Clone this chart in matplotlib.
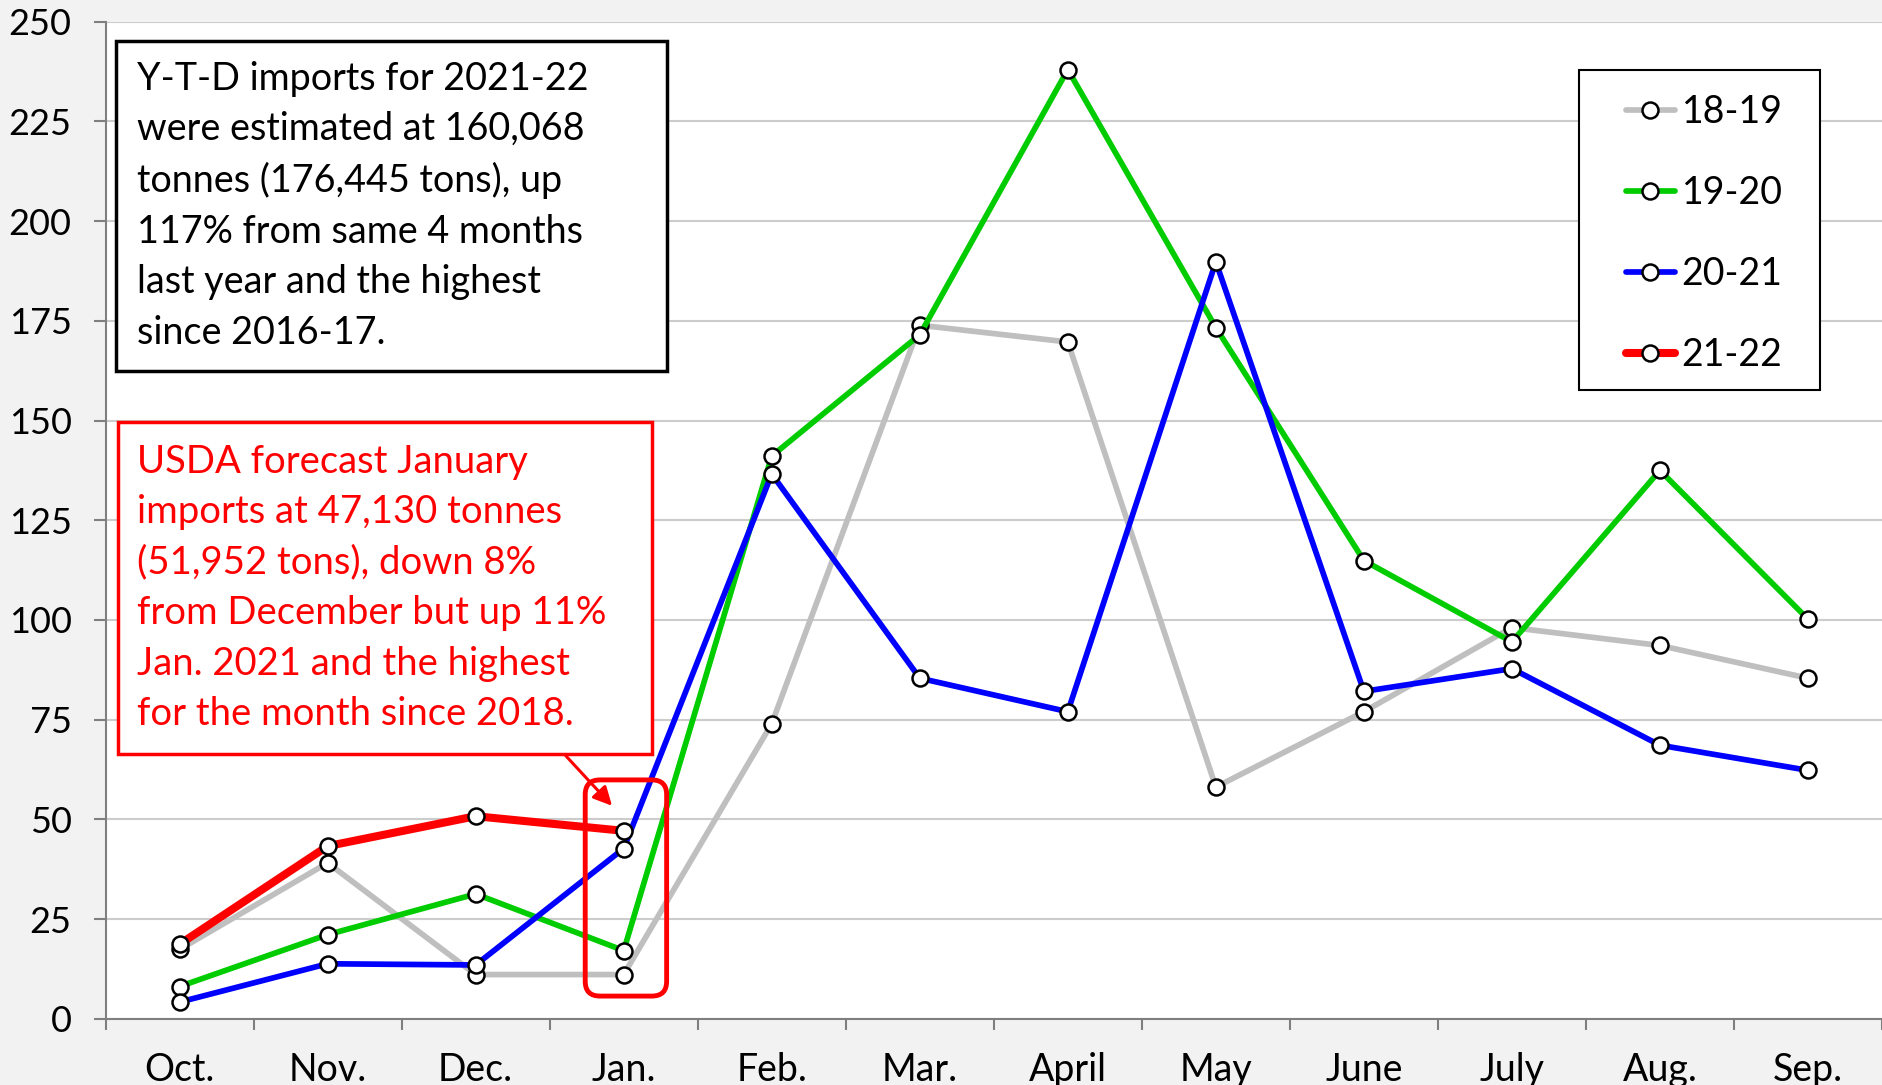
import matplotlib.pyplot as plt
from matplotlib.patches import FancyBboxPatch, Rectangle

plt.rcParams['font.family'] = ['Lato', 'DejaVu Sans']

months = ['Oct.', 'Nov.', 'Dec.', 'Jan.', 'Feb.', 'Mar.', 'April', 'May',
          'June', 'July', 'Aug.', 'Sep.']

s_18_19 = [17.4, 39.1, 11.1, 11.1, 74.0, 173.9, 169.7, 58.1, 77.0, 98.1, 93.6, 85.4]
s_19_20 = [8.1, 21.1, 31.3, 17.1, 141.1, 171.5, 238.0, 173.3, 114.9, 94.5, 137.5, 100.2]
s_20_21 = [4.2, 13.8, 13.5, 42.7, 136.6, 85.4, 77.0, 189.8, 82.1, 87.8, 68.6, 62.3]
s_21_22 = [18.7, 43.3, 50.8, 47.13]

series = [
    ('18-19', s_18_19, '#bfbfbf', 4.1),
    ('19-20', s_19_20, '#00cc00', 4.1),
    ('20-21', s_20_21, '#0000ff', 4.1),
    ('21-22', s_21_22, '#ff0000', 5.8),
]

ytd_note = ("Y-T-D imports for 2021-22\nwere estimated at 160,068\n"
            "tonnes (176,445 tons), up\n117% from same 4 months\n"
            "last year and the highest\nsince 2016-17.")
usda_note = ("USDA forecast January\nimports at 47,130 tonnes\n"
             "(51,952 tons), down 8%\nfrom December but up 11%\n"
             "Jan. 2021 and the highest\nfor the month since 2018.")

fig = plt.figure(figsize=(18.82, 10.85), dpi=100, facecolor='#f2f2f2')
ax = fig.add_axes([0.0561, 0.061, 0.9439, 0.919])
ax.set_facecolor('white')

x = list(range(len(months)))
for name, vals, color, lw in series:
    ax.plot(x[:len(vals)], vals, color=color, lw=lw, label=name,
            marker='o', ms=11.5, mfc='white', mec='black', mew=1.8,
            solid_capstyle='round', solid_joinstyle='round', zorder=3)

ax.set_xlim(-0.5, 11.47)
ax.set_ylim(0, 250)
ax.set_yticks(range(0, 251, 25))
ax.grid(axis='y', color='#cccccc', lw=1.5, zorder=0)
ax.set_axisbelow(True)

ax.set_xticks(x)
ax.set_xticklabels(months)
ax.set_xticks([i - 0.5 for i in range(13)], minor=True)
ax.tick_params(axis='x', which='major', length=0, pad=24, labelsize=27)
ax.tick_params(axis='x', which='minor', length=8, width=1.5, color='#7f7f7f', direction='out')
ax.tick_params(axis='y', length=8.5, width=1.5, color='#7f7f7f', pad=16, labelsize=26)

for side in ['top', 'right']:
    ax.spines[side].set_visible(False)
ax.spines['left'].set_color('#7f7f7f')
ax.spines['left'].set_linewidth(1.5)
ax.spines['bottom'].set_color('#7f7f7f')
ax.spines['bottom'].set_linewidth(1.5)

# note boxes
fig.add_artist(Rectangle((0.0619, 0.6582), 0.2926, 0.3042, transform=fig.transFigure,
                         fc='white', ec='black', lw=2.5, zorder=5))
fig.text(0.0727, 0.8103, ytd_note, ha='left', va='center', fontsize=27.2,
         linespacing=1.5, zorder=6)
fig.add_artist(Rectangle((0.0625, 0.3054), 0.2837, 0.3053, transform=fig.transFigure,
                         fc='white', ec='#ff0000', lw=2.5, zorder=5))
fig.text(0.0727, 0.4581, usda_note, ha='left', va='center', fontsize=27.5,
         linespacing=1.5, color='#ff0000', zorder=6)

# highlight around January
ax.add_patch(FancyBboxPatch((2.74, 5.7), 0.55, 54.2,
                            boxstyle='round,pad=0,rounding_size=0.1',
                            fc='none', ec='#ff0000', lw=3.5, zorder=4,
                            mutation_aspect=37))
ax.annotate('', xy=(2.934, 52.9), xytext=(2.595, 66.5),
            arrowprops=dict(arrowstyle='-|>', color='#ff0000', lw=2.2, mutation_scale=28),
            zorder=5)

# legend with a separate frame
ax.add_patch(Rectangle((0.839, 0.6406), 0.128, 0.2953, transform=fig.transFigure,
                       fc='white', ec='black', lw=1.5, zorder=5, clip_on=False))
leg = ax.legend(loc='upper left', bbox_to_anchor=(0.864, 0.913),
                bbox_transform=fig.transFigure, fontsize=27,
                handlelength=1.3, handletextpad=0.18, labelspacing=1.2,
                borderpad=0, borderaxespad=0, frameon=False)
leg.set_zorder(6)

fig.savefig('out.png', dpi=100, facecolor=fig.get_facecolor())
